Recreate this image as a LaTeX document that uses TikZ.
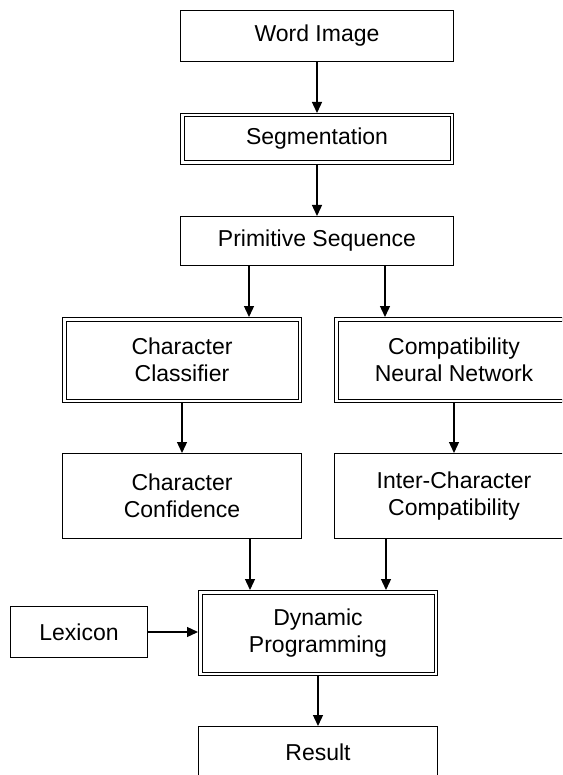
\documentclass[tikz,border=0pt]{standalone}
\usepackage{fontspec}
\setmainfont{Liberation Sans}
\usetikzlibrary{arrows.meta,calc}
\begin{document}
\begin{tikzpicture}[x=1pt,y=-1pt,
  txt/.style={font=\fontsize{23}{26.5}\selectfont, align=center, inner sep=0pt},
  sbox/.style={txt, draw=black, line width=1.4pt, rectangle},
  dbox/.style={txt, draw=black, line width=1pt, double=white, double distance=2.5pt, outer sep=2.25pt, rectangle},
  arr/.style={line width=1.3pt, -{Triangle[length=11pt,width=10pt]}}]
\useasboundingbox (0,0) rectangle (562,775);
\clip (0,0) rectangle (562,775);
\node[sbox, minimum width=272.6pt, minimum height=50.6pt] (word) at (317,36) {Word Image};
\node[dbox, minimum width=269.5pt, minimum height=47.5pt] (seg) at (317,139) {Segmentation};
\node[sbox, minimum width=272.6pt, minimum height=48.6pt] (prim) at (317,241) {Primitive Sequence};
\node[dbox, minimum width=235.5pt, minimum height=81.5pt] (cls) at (182,360) {Character\\Classifier};
\node[dbox, minimum width=235.5pt, minimum height=81.5pt] (cnn) at (454,360) {Compatibility\\Neural Network};
\node[sbox, minimum width=238.6pt, minimum height=84.6pt] (conf) at (182,496) {Character\\Confidence};
\node[sbox, minimum width=238.6pt, minimum height=84.6pt] (inter) at (454,496) {Inter-Character\\Compatibility};
\node[dbox, minimum width=235.5pt, minimum height=81.5pt] (dp) at (318,633) {Dynamic\\Programming};
\node[sbox, minimum width=136.6pt, minimum height=50.6pt] (lex) at (79,632) {Lexicon};
\node[sbox, minimum width=238.6pt, minimum height=50.6pt] (res) at (318,752) {Result};
\coordinate (p1) at ($(prim.south)+(-68pt,0pt)$);
\coordinate (p2) at ($(prim.south)+(68pt,0pt)$);
\coordinate (d1) at ($(dp.north)+(-68pt,0pt)$);
\coordinate (d2) at ($(dp.north)+(68pt,0pt)$);
\draw[arr] (word) -- (seg);
\draw[arr] (seg) -- (prim);
\draw[arr] (p1) -- (p1 |- cls.north);
\draw[arr] (p2) -- (p2 |- cnn.north);
\draw[arr] (cls) -- (conf);
\draw[arr] (cnn) -- (inter);
\draw[arr] (d1 |- conf.south) -- (d1);
\draw[arr] (d2 |- inter.south) -- (d2);
\draw[arr] (lex.east) -- (lex.east -| dp.west);
\draw[arr] (dp) -- (res);
\end{tikzpicture}
\end{document}
